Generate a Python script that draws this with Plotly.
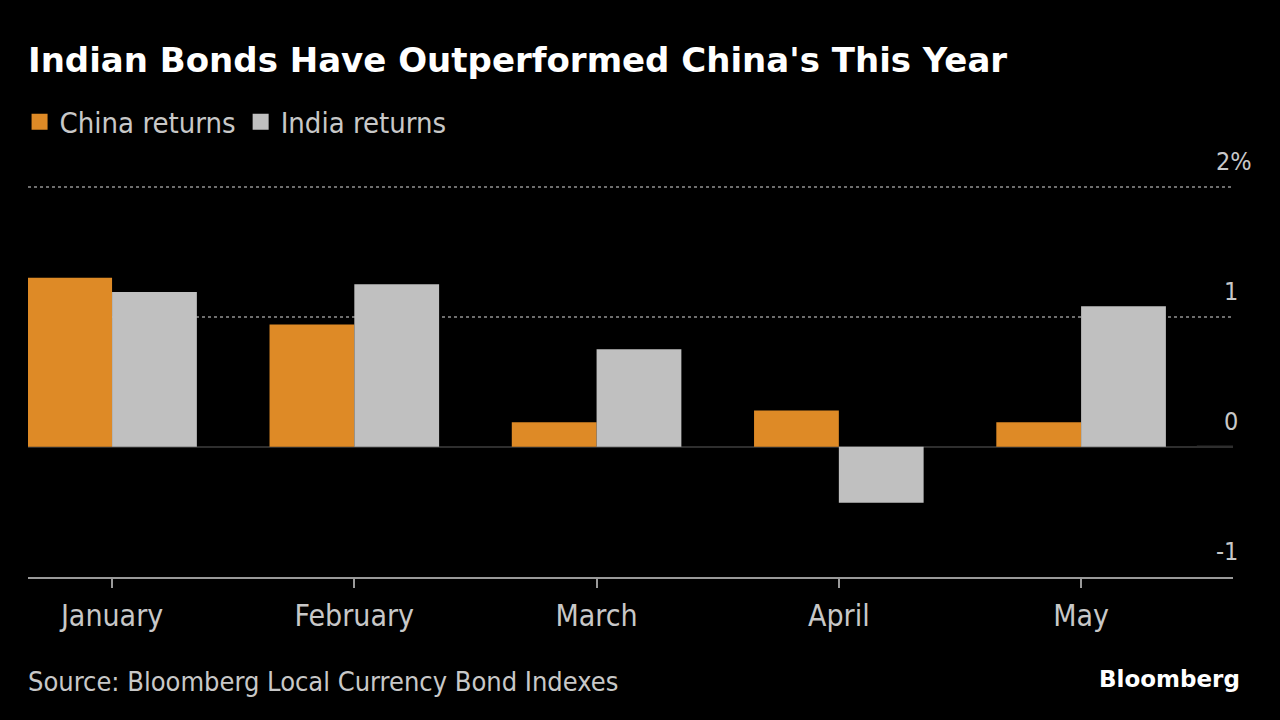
import plotly.graph_objects as go

months = ["January", "February", "March", "April", "May"]
china_returns = [1.30, 0.94, 0.19, 0.28, 0.19]
india_returns = [1.19, 1.25, 0.75, -0.43, 1.08]
y_tick_vals = [2, 1, 0, -1]
y_tick_text = ["2%", "1", "0", "-1"]

ORANGE = "#DE8A26"
GRAY = "#C0C0C0"
BG = "#000000"
TXT = "#C8C8C8"
FONT = "DejaVu Sans Condensed, DejaVu Sans, sans-serif"

PLOT_TOP, PLOT_BOTTOM = 184, 577


def py(pix):
    return (PLOT_BOTTOM - pix) / (PLOT_BOTTOM - PLOT_TOP)


fig = go.Figure()
fig.add_trace(go.Bar(x=months, y=china_returns, name="China returns", showlegend=False,
                     marker=dict(color=ORANGE, line=dict(width=0))))
fig.add_trace(go.Bar(x=months, y=india_returns, name="India returns", showlegend=False,
                     marker=dict(color=GRAY, line=dict(width=0))))
for name, col in [("China returns", ORANGE), ("India returns", GRAY)]:
    fig.add_trace(go.Scatter(x=[None], y=[None], mode="markers", name=name,
                             marker=dict(symbol="square", size=20, color=col),
                             showlegend=True))

annotations = []
for v, t in zip(y_tick_vals, y_tick_text):
    xs = 21 if "%" in t else 7
    annotations.append(dict(x=1, xref="paper", y=v, yref="y", text=t,
                            showarrow=False, xanchor="right", yanchor="bottom",
                            xshift=xs, yshift=9,
                            font=dict(family=FONT, size=25, color=TXT)))

annotations += [
    dict(text="Indian Bonds Have Outperformed China's This Year",
         xref="paper", yref="paper", x=0, y=py(60), xanchor="left", yanchor="middle",
         xshift=-2, showarrow=False,
         font=dict(family="DejaVu Sans, sans-serif", size=34, color="#FFFFFF", weight="bold")),
    dict(text="Source: Bloomberg Local Currency Bond Indexes",
         xref="paper", yref="paper", x=0, y=py(681), xanchor="left", yanchor="middle",
         xshift=-2, showarrow=False,
         font=dict(family=FONT, size=27, color=TXT)),
    dict(text="<b>Bloomberg</b>",
         xref="paper", yref="paper", x=1, y=py(679), xanchor="right", yanchor="middle",
         xshift=9, showarrow=False,
         font=dict(family="DejaVu Sans, sans-serif", size=23, color="#FFFFFF")),
]

fig.update_layout(
    width=1280, height=720,
    paper_bgcolor=BG, plot_bgcolor=BG,
    margin=dict(l=28, r=47, t=PLOT_TOP, b=720 - PLOT_BOTTOM, autoexpand=False),
    barmode="group", bargap=0.30, bargroupgap=0,
    showlegend=True,
    legend=dict(orientation="h", x=-0.007, y=1 - 122 / 720, xanchor="left", yanchor="middle",
                xref="paper", yref="container",
                font=dict(family=FONT, size=29, color=TXT),
                itemwidth=30, bgcolor="rgba(0,0,0,0)", itemclick=False),
    annotations=annotations,
    font=dict(family=FONT, color=TXT),
)

fig.update_xaxes(
    range=[-0.347, 4.627],
    showgrid=False, zeroline=False,
    showline=True, linecolor="#9A9A9A", linewidth=2,
    ticks="outside", ticklen=9, tickwidth=2, tickcolor="#9A9A9A",
    tickfont=dict(family=FONT, size=30, color=TXT),
    ticklabelstandoff=2,
)
fig.update_yaxes(
    range=[-1, 2.02], side="right",
    tickvals=[2, 1], showticklabels=False,
    showgrid=True, gridcolor="#6E6E6E", gridwidth=2, griddash="dot",
    zeroline=True, zerolinecolor="#2E2E2E", zerolinewidth=2,
    showline=False, ticks="",
)

fig.add_shape(type="line", xref="paper", yref="y", x0=0.97, x1=1.0, y0=0, y1=0,
              line=dict(color="#5A5A5A", width=2), layer="below")

fig.write_html("out.html", config={"displayModeBar": False},
               post_script="document.body.style.margin='0';document.body.style.background='#000';")
